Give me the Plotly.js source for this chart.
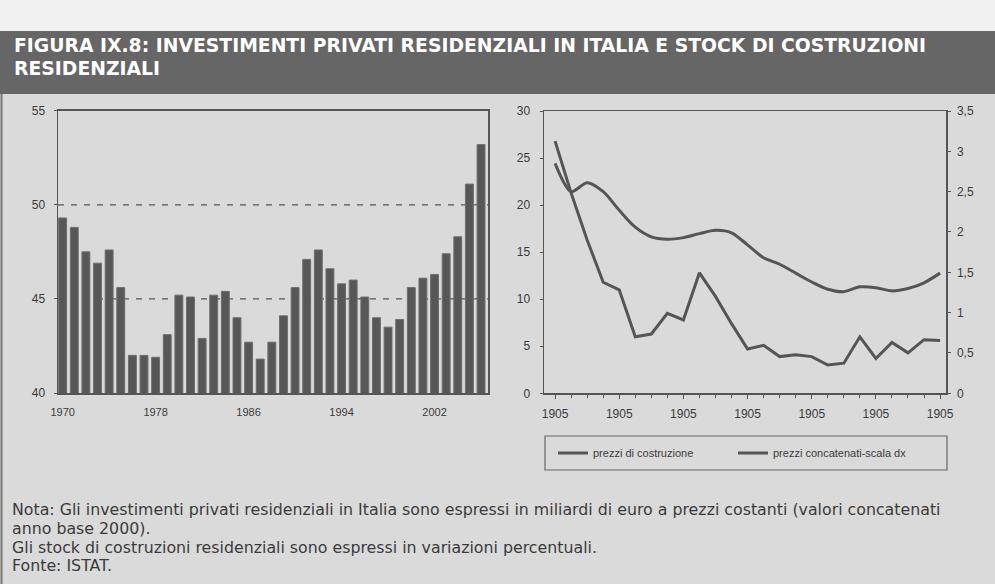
<!DOCTYPE html>
<html><head><meta charset="utf-8">
<script src="https://cdn.plot.ly/plotly-3.0.1.min.js"></script>
<style>html,body{margin:0;padding:0;background:#dadada}</style>
</head><body><div id="chart" style="width:995px;height:584px"></div>
<script>
// ---- data (left panel: investimenti privati residenziali, mld euro) ----
const years = [1970,1971,1972,1973,1974,1975,1976,1977,1978,1979,1980,1981,1982,1983,1984,1985,1986,1987,1988,1989,1990,1991,1992,1993,1994,1995,1996,1997,1998,1999,2000,2001,2002,2003,2004,2005,2006];
const investimenti = [49.3,48.8,47.5,46.9,47.6,45.6,42.0,42.0,41.9,43.1,45.2,45.1,42.9,45.2,45.4,44.0,42.7,41.8,42.7,44.1,45.6,47.1,47.6,46.6,45.8,46.0,45.1,44.0,43.5,43.9,45.6,46.1,46.3,47.4,48.3,51.1,53.2];
const leftTickYears = [1970,1978,1986,1994,2002];

// ---- data (right panel) ----
const periodIndex = [0,1,2,3,4,5,6,7,8,9,10,11,12,13,14,15,16,17,18,19,20,21,22,23,24];
const periodTickIdx = [0,4,8,12,16,20,24];
const periodTickText = ['1905','1905','1905','1905','1905','1905','1905'];
const prezziCostruzione = [26.8,21.3,16.3,11.8,11.0,6.0,6.3,8.5,7.8,12.8,10.3,7.4,4.7,5.1,3.9,4.1,3.9,3.0,3.2,6.0,3.7,5.4,4.3,5.7,5.6];
const prezziConcatenati = [2.85,2.50,2.61,2.50,2.27,2.06,1.94,1.91,1.93,1.98,2.02,1.99,1.84,1.68,1.60,1.49,1.38,1.29,1.26,1.32,1.31,1.27,1.30,1.37,1.49];
const seriesNames = ['prezzi di costruzione','prezzi concatenati-scala dx'];
const rightLeftTicks = [0,5,10,15,20,25,30];
const rightRightTicks = [0,0.5,1,1.5,2,2.5,3,3.5];

const W = 995, H = 584;
const px = v => v / W;
const py = v => 1 - v / H;

const axisCol = '#555';
const txtCol = '#3a3a3a';
const fam = '"Liberation Sans", Arial, sans-serif';
const font = {family: fam, size: 12, color: txtCol};
const fontX = {family: fam, size: 11, color: txtCol};
const noteFont = {family: '"DejaVu Sans", sans-serif', size: 15.8, color: txtCol};
const titleFont = {family: '"DejaVu Sans", sans-serif', size: 18.8, color: '#fff'};

const traces = [
  {type: 'bar', x: years, y: investimenti, xaxis: 'x', yaxis: 'y',
   marker: {color: '#575757', line: {color: '#6e6e6e', width: 1}}, showlegend: false, hoverinfo: 'skip'},
  {type: 'scatter', mode: 'lines', x: periodIndex, y: prezziCostruzione, xaxis: 'x2', yaxis: 'y2',
   name: seriesNames[0], line: {color: '#555', width: 3}},
  {type: 'scatter', mode: 'lines', x: periodIndex, y: prezziConcatenati, xaxis: 'x2', yaxis: 'y3',
   name: seriesNames[1], line: {color: '#555', width: 3, shape: 'spline', smoothing: 0.8}}
];

const layout = {
  width: W, height: H,
  margin: {l: 0, r: 0, t: 0, b: 0},
  paper_bgcolor: '#dadada', plot_bgcolor: '#dadada',
  separators: ', ',
  font: font,
  bargap: 0.32,
  xaxis: {domain: [px(58), px(488)], range: [1969.6, 2006.6], tickvals: leftTickYears,
    showgrid: false, zeroline: false, showline: true, mirror: true, linecolor: axisCol, linewidth: 1.5,
    ticks: '', tickfont: fontX, ticklabelstandoff: 8},
  yaxis: {domain: [py(393), py(110.7)], range: [40, 55], tickvals: [40,45,50,55],
    showgrid: false, zeroline: false, showline: true, mirror: true, linecolor: axisCol, linewidth: 1.5,
    ticks: 'outside', ticklen: 3, tickcolor: axisCol, tickfont: font, ticklabelstandoff: 6},
  xaxis2: {domain: [px(544), px(946)], range: [-0.69, 24.37], anchor: 'y2', tickvals: periodTickIdx, ticktext: periodTickText,
    showgrid: false, zeroline: false, showline: true, mirror: true, linecolor: axisCol, linewidth: 1.5,
    ticks: 'outside', ticklen: 4, tickcolor: axisCol, tickfont: font, ticklabelstandoff: 5,
    minor: {dtick: 1, tick0: 0, ticks: 'outside', ticklen: 3, tickcolor: axisCol, showgrid: false}},
  yaxis2: {domain: [py(393.3), py(111)], range: [0, 30], anchor: 'x2', tickvals: rightLeftTicks,
    showgrid: false, zeroline: false, showline: true, linecolor: axisCol, linewidth: 1.5,
    ticks: 'outside', ticklen: 3, tickcolor: axisCol, tickfont: font, ticklabelstandoff: 7},
  yaxis3: {domain: [py(393.3), py(111)], range: [0, 3.5], anchor: 'x2', overlaying: 'y2', side: 'right',
    tickvals: rightRightTicks, showgrid: false, zeroline: false, showline: true, linecolor: axisCol, linewidth: 1.5,
    ticks: 'outside', ticklen: 3, tickcolor: axisCol, tickfont: font, ticklabelstandoff: 4},
  legend: {orientation: 'h', x: px(553), y: py(453), xanchor: 'left', yanchor: 'middle',
    bgcolor: 'rgba(0,0,0,0)', borderwidth: 0, font: {family: fam, size: 11, color: txtCol},
    entrywidth: 135, entrywidthmode: 'pixels', itemwidth: 30},
  shapes: [
    {type: 'rect', xref: 'paper', yref: 'paper', x0: 0, x1: 1, y0: py(31), y1: 1, fillcolor: '#f1f1f1', line: {width: 0}, layer: 'below'},
    {type: 'rect', xref: 'paper', yref: 'paper', x0: 0, x1: 1, y0: py(94), y1: py(31), fillcolor: '#666', line: {width: 0}, layer: 'below'},
    {type: 'line', xref: 'paper', yref: 'paper', x0: px(1.5), x1: px(1.5), y0: 0, y1: py(94), line: {color: '#777', width: 2}},
    {type: 'line', xref: 'x', yref: 'y', x0: 1969.6, x1: 2006.6, y0: 45, y1: 45, line: {color: '#555', width: 1.2, dash: '6px,7px'}, layer: 'below'},
    {type: 'line', xref: 'x', yref: 'y', x0: 1969.6, x1: 2006.6, y0: 50, y1: 50, line: {color: '#555', width: 1.2, dash: '6px,7px'}, layer: 'below'},
    {type: 'rect', xref: 'paper', yref: 'paper', x0: px(545), x1: px(947), y0: py(470), y1: py(436), line: {color: '#666', width: 1.2}, fillcolor: 'rgba(0,0,0,0)'}
  ],
  annotations: [
    {xref: 'paper', yref: 'paper', x: px(12), y: py(45), xanchor: 'left', yanchor: 'middle', showarrow: false,
     text: '<b>FIGURA IX.8: INVESTIMENTI PRIVATI RESIDENZIALI IN ITALIA E STOCK DI COSTRUZIONI</b>', font: titleFont},
    {xref: 'paper', yref: 'paper', x: px(12), y: py(68), xanchor: 'left', yanchor: 'middle', showarrow: false,
     text: '<b>RESIDENZIALI</b>', font: titleFont},
    {xref: 'paper', yref: 'paper', x: px(10), y: py(509), xanchor: 'left', yanchor: 'middle', showarrow: false,
     text: 'Nota: Gli investimenti privati residenziali in Italia sono espressi in miliardi di euro a prezzi costanti (valori concatenati',
     font: noteFont},
    {xref: 'paper', yref: 'paper', x: px(10), y: py(528), xanchor: 'left', yanchor: 'middle', showarrow: false,
     text: 'anno base 2000).', font: noteFont},
    {xref: 'paper', yref: 'paper', x: px(10), y: py(547), xanchor: 'left', yanchor: 'middle', showarrow: false,
     text: 'Gli stock di costruzioni residenziali sono espressi in variazioni percentuali.', font: noteFont},
    {xref: 'paper', yref: 'paper', x: px(10), y: py(565), xanchor: 'left', yanchor: 'middle', showarrow: false,
     text: 'Fonte: ISTAT.', font: noteFont}
  ]
};

Plotly.newPlot('chart', traces, layout, {displayModeBar: false, staticPlot: true});
</script></body></html>
